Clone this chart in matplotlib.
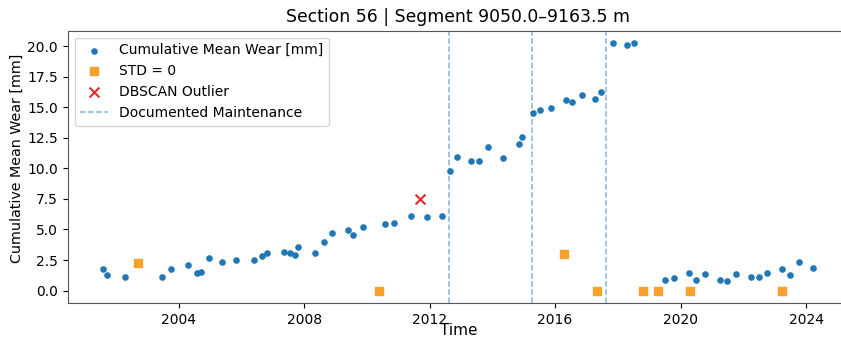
import matplotlib
matplotlib.use("Agg")
import matplotlib.pyplot as plt
import matplotlib.dates as mdates
import pandas as pd

# Cumulative mean wear points
wear_dates = ["2001-08-04", "2001-09-20", "2002-04-20", "2003-06-20", "2003-09-27",
              "2004-04-16", "2004-07-31", "2004-09-16", "2004-12-20", "2005-05-19",
              "2005-10-27", "2006-05-26", "2006-08-29", "2006-10-30", "2007-05-08",
              "2007-07-24", "2007-09-10", "2007-10-16", "2008-05-11", "2008-08-22",
              "2008-11-21", "2009-05-22", "2009-07-27", "2009-11-21", "2010-08-04",
              "2010-11-10", "2011-05-30", "2011-12-02", "2012-05-19",
              "2012-08-29", "2012-11-17", "2013-05-01", "2013-07-24", "2013-11-10",
              "2014-05-01", "2014-11-06", "2014-12-16", "2015-04-20", "2015-07-13",
              "2015-11-14", "2016-05-12", "2016-07-16", "2016-11-14", "2017-04-12",
              "2017-06-17", "2017-11-10", "2018-04-16", "2018-07-13",
              "2019-07-08", "2019-10-15", "2020-04-05", "2020-06-28", "2020-10-08",
              "2021-04-01", "2021-06-24", "2021-10-08", "2022-03-28", "2022-06-28",
              "2022-10-05", "2023-04-01", "2023-06-24", "2023-10-16", "2024-03-28"]
wear_values = [1.77, 1.31, 1.09, 1.12, 1.77,
               2.07, 1.47, 1.52, 2.64, 2.37,
               2.53, 2.50, 2.86, 3.05, 3.18,
               3.05, 2.91, 3.59, 3.10, 4.00,
               4.73, 4.92, 4.57, 5.20, 5.41,
               5.49, 6.09, 6.04, 6.09,
               9.82, 10.94, 10.59, 10.61, 11.78,
               10.86, 12.00, 12.52, 14.56, 14.80,
               14.91, 15.57, 15.46, 15.98, 15.70,
               16.22, 20.24, 20.11, 20.24,
               0.90, 1.03, 1.47, 0.84, 1.33,
               0.90, 0.82, 1.33, 1.09, 1.09,
               1.44, 1.77, 1.25, 2.31, 1.82]

# STD = 0 points
std0_dates = ["2002-09-12", "2010-05-18", "2016-04-15", "2017-05-01", "2018-10-22",
              "2019-04-12", "2020-04-22", "2023-04-01"]
std0_values = [2.23, 0.0, 2.97, 0.0, 0.0, 0.0, 0.0, 0.0]

# DBSCAN outlier
outlier_dates = ["2011-09-16"]
outlier_values = [7.48]

# Documented maintenance dates
maintenance_dates = ["2012-08-18", "2015-04-01", "2017-08-15"]

title = "Section 56 | Segment 9050.0\u20139163.5 m"

W, H = 841, 339
fig = plt.figure(figsize=(W / 100, H / 100), dpi=100)
left, right, top, bottom = 67.7, 849, 30.7, 303
ax = fig.add_axes([left / W, 1 - bottom / H, (right - left) / W, (bottom - top) / H])

ax.scatter(pd.to_datetime(wear_dates), wear_values, s=14, color="#1f77b4",
           label="Cumulative Mean Wear [mm]", zorder=3)
ax.scatter(pd.to_datetime(std0_dates), std0_values, s=40, marker="s", color="#f7a12b",
           label="STD = 0", zorder=3)
ax.scatter(pd.to_datetime(outlier_dates), outlier_values, s=50, marker="x", color="#e8262a",
           label="DBSCAN Outlier", zorder=4)
for i, d in enumerate(maintenance_dates):
    ax.axvline(pd.to_datetime(d), color="#1f77b4", alpha=0.55, linestyle="--", linewidth=1.1,
               label="Documented Maintenance" if i == 0 else None)

ax.xaxis.set_major_locator(mdates.YearLocator(4))
ax.xaxis.set_major_formatter(mdates.DateFormatter("%Y"))
ax.tick_params(labelsize=10)
ax.set_xlabel("Time", fontsize=11, labelpad=-2.5)
ax.set_ylabel("Cumulative Mean Wear [mm]", fontsize=10.3)
ax.yaxis.set_label_coords(-0.056, 0.53)
ax.set_title(title, fontsize=12.4)
for s in ax.spines.values():
    s.set_color("#555555")
ax.legend(loc="upper left", fontsize=10)

fig.savefig("out.png", dpi=100)
